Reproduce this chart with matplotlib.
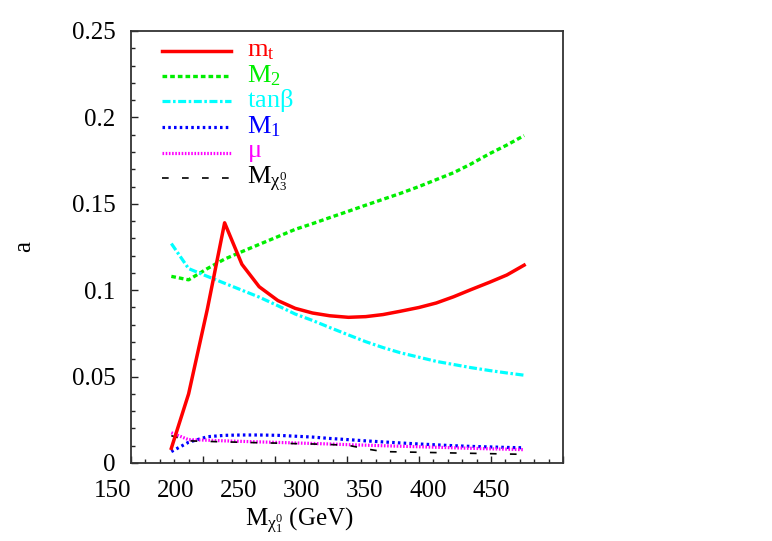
import matplotlib
matplotlib.use('Agg')
import matplotlib.pyplot as plt
from matplotlib.ticker import MultipleLocator, FixedLocator, NullFormatter

plt.rcParams['font.family'] = ['Liberation Serif', 'DejaVu Serif']
plt.rcParams['mathtext.fontset'] = 'custom'
plt.rcParams['mathtext.rm'] = 'Liberation Serif'

# neutralino mass M_chi1 (GeV)
mass = [178, 190, 203, 215, 227, 239, 252, 264, 276, 288, 301,
        313, 325, 337, 350, 362, 374, 386, 399, 411, 423]

a_mt = [0.0085, 0.040, 0.089, 0.139, 0.115, 0.102, 0.094, 0.0895, 0.0868, 0.0852, 0.0843,
        0.0847, 0.0859, 0.0878, 0.0900, 0.0926, 0.0962, 0.1003, 0.1046, 0.1088, 0.1145]
a_M2 = [0.108, 0.106, 0.1125, 0.118, 0.1223, 0.1265, 0.131, 0.1352, 0.1385, 0.142, 0.1457,
        0.1492, 0.1526, 0.156, 0.160, 0.164, 0.168, 0.173, 0.179, 0.184, 0.1895]
a_tanb = [0.127, 0.1125, 0.108, 0.104, 0.100, 0.096, 0.091, 0.0862, 0.0825, 0.0784, 0.0741,
          0.0702, 0.0668, 0.0638, 0.0612, 0.0588, 0.0570, 0.0552, 0.0535, 0.0521, 0.0508]
a_M1 = [0.0066, 0.012, 0.0152, 0.016, 0.0162, 0.0162, 0.016, 0.0155, 0.015, 0.0142, 0.0135,
        0.0128, 0.0122, 0.0116, 0.011, 0.0105, 0.0100, 0.0096, 0.0093, 0.009, 0.0088]
a_mu = [0.0175, 0.0135, 0.0132, 0.0128, 0.0125, 0.0122, 0.0119, 0.0116, 0.0113, 0.011, 0.0106,
        0.0103, 0.010, 0.0097, 0.0094, 0.0091, 0.0088, 0.0085, 0.0082, 0.008, 0.0077]
a_chi3 = [0.0158, 0.0128, 0.0125, 0.0122, 0.012, 0.0117, 0.0115, 0.0112, 0.0110, 0.0107, 0.0102,
          0.0082, 0.0066, 0.0064, 0.0062, 0.006, 0.0058, 0.0056, 0.0054, 0.0052, 0.005]

labels = [r'$\mathregular{m_t}$', r'$\mathregular{M_2}$', r'$\mathregular{tan\beta}$',
          r'$\mathregular{M_1}$', r'$\mathregular{\mu}$', r'$\mathregular{M_{\chi^0_3}}$']
colors = ['#ff0000', '#00ee00', '#00ffff', '#0000ff', '#ff00ff', '#000000']
xtick_labels = ['150', '200', '250', '300', '350', '400', '450']
ytick_labels = ['0', '0.05', '0.1', '0.15', '0.2', '0.25']

series = [a_mt, a_M2, a_tanb, a_M1, a_mu, a_chi3]
styles = [
    dict(lw=2.5, ls='-'),
    dict(lw=2.4, ls=(0, (1.4, 0.9))),
    dict(lw=2.3, ls=(0, (2.5, 0.8, 0.8, 0.8))),
    dict(lw=2.3, ls=(0, (0.8, 1.0))),
    dict(lw=2.3, ls=(0, (0.5, 0.5))),
    dict(lw=1.2, ls=(0, (4, 8))),
]
zorders = [5, 3, 3, 4, 4, 4]

fig = plt.figure(figsize=(7.72, 5.41), dpi=100)
ax = fig.add_axes([0.1697, 0.1442, 0.5596, 0.7985])

for ys, c, st, z in zip(series, colors, styles, zorders):
    ax.plot(mass, ys, color=c, zorder=z, **st)

# legend drawn by hand, like the original
leg_y = [0.954, 0.896, 0.838, 0.778, 0.718, 0.659]
for ly, lab, c, st in zip(leg_y, labels, colors, styles):
    ax.plot([0.072, 0.231], [ly, ly], transform=ax.transAxes, color=c, **st)
    ax.text(0.269, ly, lab, transform=ax.transAxes, color=c, fontsize=19,
            va='center', ha='left')

ax.set_xlim(150, 450)
ax.set_ylim(0, 0.25)
ax.xaxis.set_major_locator(MultipleLocator(50))
ax.xaxis.set_minor_locator(MultipleLocator(10))
ax.yaxis.set_major_locator(FixedLocator([0, 0.05, 0.1, 0.15, 0.2, 0.25]))
ax.yaxis.set_minor_locator(MultipleLocator(0.01))
ax.set_yticklabels(ytick_labels)
ax.xaxis.set_major_formatter(NullFormatter())
ax.tick_params(which='both', direction='in', top=False, right=False, color='#222222')
ax.tick_params(which='major', length=5, width=1)
ax.tick_params(which='minor', length=3, width=1)
ax.tick_params(axis='y', labelsize=18, pad=11)
for s in ax.spines.values():
    s.set_color('#333333')
    s.set_linewidth(1.3)

# x tick labels sit shifted left of the ticks in the original
for i, t in enumerate(xtick_labels):
    ax.text(-0.042 + i * 0.1458, -0.065, t, transform=ax.transAxes,
            ha='center', va='center', fontsize=18)

ax.text(0.39, -0.1435, r'$\mathregular{M_{\chi^0_1}}$ (GeV)', transform=ax.transAxes,
        ha='center', va='baseline', fontsize=18)
ax.set_ylabel('a', fontsize=18)
ax.yaxis.set_label_coords(-0.222, 0.5)

fig.savefig('out.png', dpi=100)
